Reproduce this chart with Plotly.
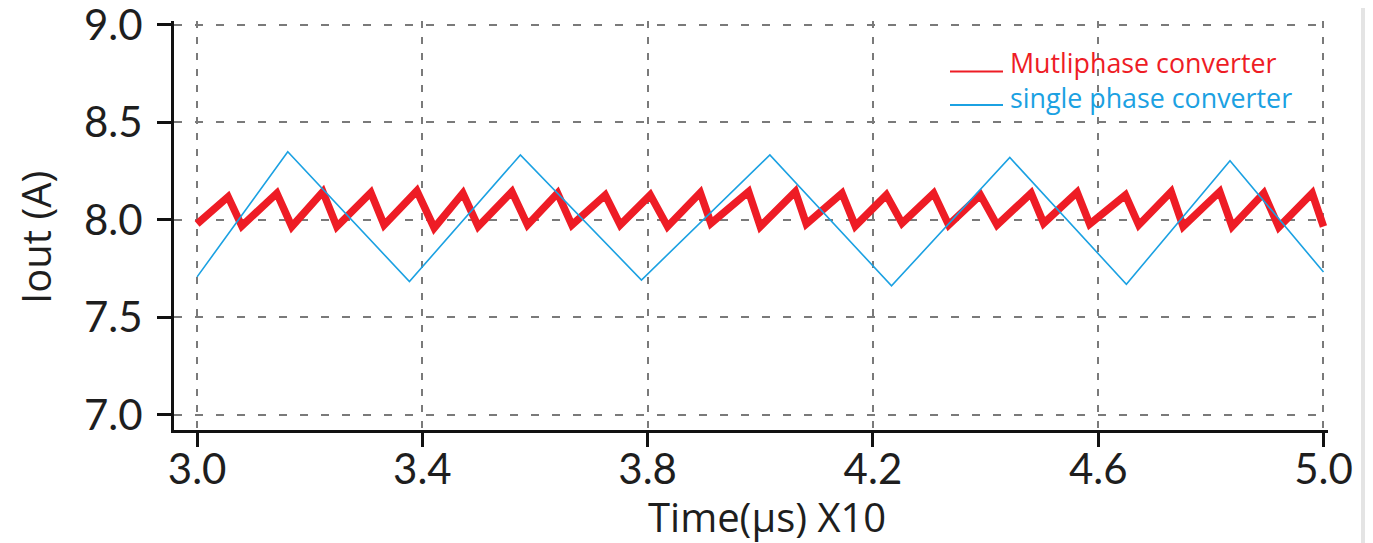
import plotly.graph_objects as go

# ---------------- data ----------------
# single phase converter: triangle ripple vertices (time in us x10, current in A)
single_t = [3.000, 3.161, 3.377, 3.574, 3.789, 4.017, 4.233, 4.443, 4.650, 4.834, 5.000]
single_i = [7.708, 8.350, 7.684, 8.333, 7.692, 8.333, 7.662, 8.320, 7.670, 8.304, 7.733]

# multiphase converter: sawtooth ripple vertices
multi_t = [3.0000,
           3.0551, 3.0794, 3.1416, 3.1682, 3.2233, 3.2481, 3.3085, 3.3321,
           3.3902, 3.4210, 3.4719, 3.4991, 3.5590, 3.5867, 3.6400, 3.6655,
           3.7247, 3.7513, 3.8046, 3.8353, 3.8934, 3.9124, 3.9792, 4.0000,
           4.0622, 4.0817, 4.1451, 4.1687, 4.2238, 4.2517, 4.3078, 4.3345,
           4.3908, 4.4204, 4.4808, 4.5032, 4.5625, 4.5849, 4.6483, 4.6720,
           4.7295, 4.7508, 4.8158, 4.8378, 4.8940, 4.9206, 4.9799, 5.0000]
multi_i = [7.980,
           8.119, 7.969, 8.137, 7.966, 8.145, 7.966, 8.140, 7.974,
           8.149, 7.959, 8.137, 7.966, 8.145, 7.974, 8.137, 7.974,
           8.128, 7.974, 8.128, 7.966, 8.140, 7.983, 8.145, 7.966,
           8.145, 7.979, 8.137, 7.969, 8.128, 7.983, 8.137, 7.974,
           8.128, 7.974, 8.137, 7.983, 8.142, 7.979, 8.128, 7.974,
           8.145, 7.966, 8.145, 7.966, 8.137, 7.963, 8.137, 7.966]

x_ticks = [3.0, 3.4, 3.8, 4.2, 4.6, 5.0]
y_ticks = [7.0, 7.5, 8.0, 8.5, 9.0]

series_names = ["Mutliphase converter", "single phase converter"]
x_title = "Time(μs) X10"
y_title = "Iout (A)"

RED = "#ee1c25"
BLUE = "#1ba1e2"

# ---------------- layout geometry ----------------
# the page body has an 8px margin, so the figure starts at page pixel (8, 8)
OFF = 8
W, H = 1373 - OFF, 543 - OFF
L, R, T, B = 166, 45, 13, 113


def px_x(p):
    """page pixel x -> paper coordinate"""
    return (p - OFF - L) / (W - L - R)


def px_y(p):
    """page pixel y -> paper coordinate"""
    return (H - B - (p - OFF)) / (H - T - B)


fig = go.Figure()
fig.add_trace(go.Scatter(x=multi_t, y=multi_i, mode="lines", name=series_names[0],
                         line=dict(color=RED, width=7.5), showlegend=False))
fig.add_trace(go.Scatter(x=single_t, y=single_i, mode="lines", name=series_names[1],
                         line=dict(color=BLUE, width=1.6), showlegend=False))

tick_font = dict(family="Lato", size=42, color="#1e1e1e")
title_font = dict(family="Open Sans", size=40, color="#1e1e1e")
legend_font_size = 26.8

fig.update_layout(
    width=W, height=H,
    margin=dict(l=L, r=R, t=T, b=B, autoexpand=False),
    paper_bgcolor="white", plot_bgcolor="white",
    showlegend=False,
    xaxis=dict(range=[2.959, 5.008], tickvals=x_ticks, ticktext=[f"{v:.1f}" for v in x_ticks],
               showgrid=True, gridcolor="#7a7a7a", gridwidth=2, griddash="7px,9px",
               showline=True, linecolor="#111111", linewidth=3, zeroline=False,
               ticks="outside", ticklen=14, tickwidth=3, tickcolor="#111111",
               tickfont=tick_font, ticklabelstandoff=-13, ticklabeloverflow="allow",
               automargin=False),
    yaxis=dict(range=[6.923, 9.02], tickvals=y_ticks, ticktext=[f"{v:.1f}" for v in y_ticks],
               showgrid=True, gridcolor="#7a7a7a", gridwidth=2, griddash="8px,13px",
               showline=True, linecolor="#111111", linewidth=3, zeroline=False,
               ticks="outside", ticklen=14, tickwidth=3, tickcolor="#111111",
               tickfont=tick_font, ticklabelstandoff=6, ticklabeloverflow="allow",
               automargin=False),
)

# legend (drawn like the reference: underline-style samples next to coloured text)
legend_rows = [(series_names[0], RED, 71.5), (series_names[1], BLUE, 105)]
for name, col, line_y in legend_rows:
    fig.add_shape(type="line", xref="paper", yref="paper",
                  x0=px_x(950), x1=px_x(1003), y0=px_y(line_y), y1=px_y(line_y),
                  line=dict(color=col, width=2))
legend_text = "<br>".join(f'<span style="color:{col}">{name}</span>'
                          for name, col, _ in legend_rows)
fig.add_annotation(text=legend_text, xref="paper", yref="paper", x=px_x(1008), y=px_y(80),
                   xanchor="left", yanchor="middle", align="left", showarrow=False,
                   font=dict(family="Open Sans", size=legend_font_size, color=RED))

# axis titles
fig.add_annotation(text=x_title, xref="paper", yref="paper", x=px_x(767), y=px_y(516),
                   xanchor="center", yanchor="middle", showarrow=False, font=title_font)
fig.add_annotation(text=y_title, xref="paper", yref="paper", x=px_x(35), y=px_y(238),
                   xanchor="center", yanchor="middle", showarrow=False, textangle=-90,
                   font=title_font)

# light grey decorative band on the right edge
fig.add_shape(type="rect", xref="paper", yref="paper", layer="below",
              x0=px_x(1361), x1=px_x(1373), y0=px_y(543), y1=px_y(8),
              fillcolor="#e4e4e4", line=dict(width=0))

fig.write_html("out.html")
